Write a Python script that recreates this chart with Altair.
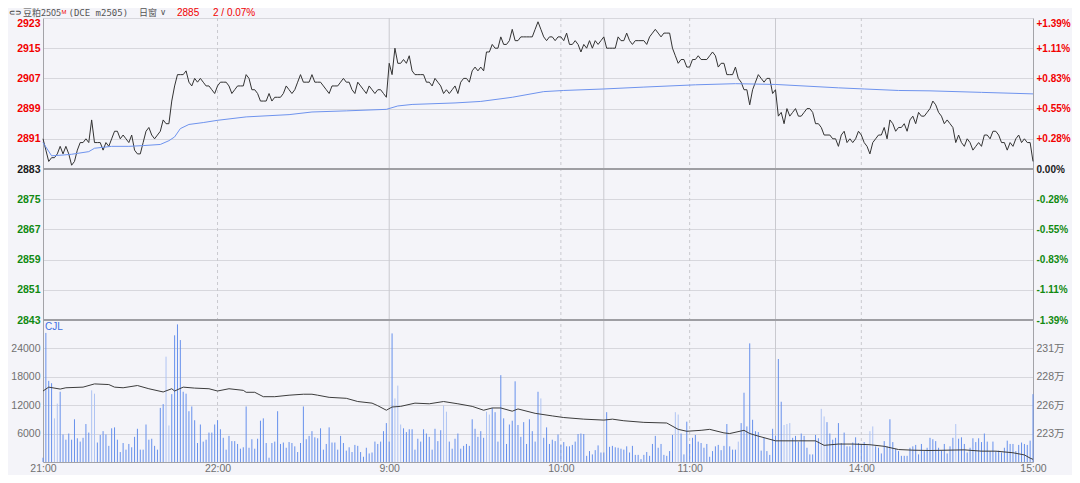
import altair as alt
import pandas as pd

# ---------------- data ----------------
PREV_SETTLE = 2883
PRICE_TICKS = [2843, 2851, 2859, 2867, 2875, 2883, 2891, 2899, 2907, 2915, 2923]
VOL_TICKS = [6000, 12000, 18000, 24000]
OI_TICKS = [223.1, 225.75, 228.4, 231.05]          # open interest, 万手
TIME_TICKS = [-1, 60, 120, 180, 225, 285, 345]      # trading minutes from 21:00
TIME_LABELS = ["21:00", "22:00", "9:00", "10:00", "11:00", "14:00", "15:00"]
SESSION_BREAKS = [120, 195, 255]                    # 9:00, 10:15/10:30, 11:30/13:30
HOUR_MARKS = [60, 180, 225, 285]                    # 22:00, 10:00, 11:00, 14:00

# minute-by-minute price, 21:00-23:00 (m = -1 .. 119)
PRICE_NIGHT = [
    2891, 2888, 2885, 2886, 2886, 2887, 2889, 2887, 2889, 2887,
    2884, 2885, 2888, 2890, 2890, 2891, 2890, 2896, 2890, 2890,
    2890, 2888, 2890, 2889, 2891, 2893, 2893, 2891, 2892, 2891,
    2890, 2892, 2888, 2887, 2887, 2890, 2893, 2894, 2892, 2891,
    2892, 2893, 2896, 2895, 2895, 2901, 2905, 2908, 2908, 2908,
    2909, 2906, 2905, 2907, 2906, 2907, 2906, 2905, 2905, 2904,
    2903, 2905, 2906, 2906, 2906, 2905, 2903, 2904, 2905, 2905,
    2905, 2908, 2907, 2904, 2904, 2903, 2901, 2901, 2901, 2903,
    2901, 2902, 2902, 2902, 2903, 2905, 2904, 2903, 2904, 2906,
    2908, 2906, 2906, 2906, 2908, 2906, 2906, 2906, 2905, 2904,
    2903, 2905, 2905, 2905, 2906, 2907, 2906, 2906, 2904, 2903,
    2906, 2905, 2904, 2903, 2905, 2904, 2903, 2904, 2904, 2903,
    2902,
]
# 9:00-10:15 (m = 120 .. 194)
PRICE_AM1 = [
    2911, 2908, 2915, 2911, 2911, 2912, 2911, 2913, 2909, 2908,
    2908, 2908, 2908, 2906, 2906, 2905, 2907, 2906, 2905, 2903,
    2904, 2903, 2904, 2905, 2903, 2906, 2907, 2907, 2906, 2909,
    2910, 2909, 2910, 2909, 2914, 2914, 2916, 2915, 2915, 2918,
    2916, 2916, 2917, 2920, 2917, 2917, 2918, 2918, 2918, 2918,
    2918, 2920, 2922, 2920, 2918, 2917, 2918, 2918, 2917, 2918,
    2918, 2917, 2919, 2916, 2916, 2917, 2916, 2914, 2916, 2915,
    2917, 2915, 2917, 2916, 2917,
]
# 10:30-11:30 (m = 195 .. 254)
PRICE_AM2 = [
    2918, 2915, 2915, 2915, 2915, 2918, 2917, 2917, 2919, 2917,
    2916, 2917, 2917, 2917, 2917, 2916, 2918, 2919, 2920, 2919,
    2918, 2919, 2919, 2919, 2915, 2913, 2911, 2912, 2912, 2910,
    2910, 2912, 2912, 2913, 2912, 2912, 2912, 2913, 2914, 2913,
    2910, 2911, 2911, 2908, 2908, 2908, 2910, 2907, 2906, 2904,
    2904, 2900, 2904, 2906, 2908, 2907, 2906, 2907, 2907, 2903,
]
# 13:30-15:00 (m = 255 .. 345)
PRICE_PM = [
    2904, 2897, 2898, 2895, 2899, 2897, 2898, 2899, 2897, 2897,
    2898, 2899, 2899, 2898, 2895, 2895, 2894, 2892, 2892, 2892,
    2891, 2891, 2889, 2892, 2893, 2890, 2891, 2890, 2891, 2893,
    2892, 2890, 2889, 2887, 2890, 2891, 2892, 2892, 2894, 2891,
    2896, 2895, 2893, 2894, 2894, 2895, 2893, 2896, 2897, 2895,
    2898, 2897, 2897, 2898, 2899, 2901, 2900, 2898, 2897, 2895,
    2896, 2895, 2894, 2890, 2892, 2890, 2889, 2891, 2890, 2888,
    2889, 2890, 2889, 2892, 2892, 2891, 2893, 2893, 2892, 2890,
    2890, 2888, 2890, 2889, 2891, 2892, 2890, 2891, 2890, 2890,
    2885,
]

VOL_NIGHT = [
    900, 27200, 17100, 16600, 9200, 12300, 14800, 5800, 4700, 6000,
    4700, 9000, 5000, 4300, 5100, 8000, 6200, 15100, 14400, 4100,
    5700, 6500, 5800, 3400, 7100, 7300, 4700, 2100, 4000, 2600,
    3800, 3100, 5300, 7000, 2600, 2600, 7900, 4700, 4900, 3400,
    2600, 11400, 12200, 22200, 7700, 14300, 26700, 29000, 25700, 14800,
    14400, 10700, 11700, 8800, 4000, 7900, 4300, 4700, 6200, 6200,
    7900, 8800, 6900, 5100, 2600, 5500, 4400, 4400, 3800, 2800,
    3100, 11700, 3000, 4800, 2800, 4900, 8700, 9200, 4000, 900,
    4000, 4300, 10700, 3800, 4100, 3000, 4200, 4000, 3300, 2100,
    4000, 11700, 4800, 5500, 6500, 5200, 5000, 7100, 2600, 3800,
    7300, 4100, 4100, 2600, 5500, 4000, 2400, 3100, 2100, 3600,
    3400, 2100, 1100, 3000, 1800, 2000, 4300, 3800, 4300, 6500,
    8200,
]
VOL_AM1 = [
    4300, 27100, 13400, 16100, 7900, 7100, 6300, 6900, 6900, 2600,
    4900, 4300, 6900, 6000, 5300, 2600, 7000, 4400, 6700, 11900,
    10600, 4300, 2800, 4900, 6000, 2800, 3400, 3800, 3400, 9000,
    7000, 5300, 6500, 5100, 10600, 10000, 11400, 10500, 4300, 18300,
    9200, 3800, 7900, 8700, 17000, 7800, 5300, 8400, 3800, 9000,
    6500, 4300, 14800, 13400, 5100, 7300, 3800, 4700, 4400, 5800,
    3600, 4200, 3300, 3300, 3600, 4300, 5900, 6000, 5900, 1300,
    2300, 1600, 2500, 3500, 2000,
]
VOL_AM2 = [
    2000, 10500, 3200, 3400, 3100, 3000, 2800, 2600, 3300, 2000,
    3400, 1500, 1500, 600, 1500, 2100, 1300, 3800, 5500, 3000,
    3800, 1500, 1300, 2300, 5700, 10500, 10000, 6000, 1600, 8500,
    3800, 5100, 5700, 4300, 4000, 3000, 3800, 1100, 2300, 3300,
    3600, 2500, 3400, 8000, 3300, 2600, 2600, 4300, 8200, 14600,
    7500, 25000, 8900, 6500, 6300, 2400, 5100, 2300, 1500, 7000,
]
VOL_PM = [
    5500, 21700, 12700, 7800, 8000, 8200, 5100, 5500, 4300, 6000,
    5500, 3000, 1600, 1600, 5700, 5000, 11200, 9600, 8400, 6000,
    4700, 5100, 8200, 4000, 6200, 3300, 3300, 4100, 5200, 4000,
    3800, 4200, 3500, 6500, 7500, 3300, 3000, 1800, 4400, 3300,
    9000, 4200, 2800, 2300, 1300, 1300, 1300, 3000, 3300, 3600,
    1600, 3800, 2300, 3000, 5100, 4800, 4400, 3000, 2400, 3800,
    1800, 3300, 5100, 8000, 4900, 5200, 3800, 2000, 3000, 5000,
    4200, 5000, 4200, 6000, 4300, 2300, 4300, 2300, 2400, 2000,
    3000, 4500, 3800, 3800, 2300, 3600, 4100, 3800, 3600, 4500,
    14300,
]
LIGHT_BARS = [3, 4, 16, 17, 42, 43, 122, 123, 124, 139, 140, 154, 155, 173,
              220, 221, 242, 258, 259, 260, 271, 272, 288, 289, 318]

AVG_T = [-1, 2, 6, 9, 15, 17, 23, 29, 34, 40, 43, 45, 47, 50, 55, 60, 70, 85, 93, 105,
         119, 123, 128, 143, 152, 163, 174, 181, 195, 209, 227, 241, 255, 277, 286, 298,
         309, 327, 345]
AVG_V = [2890, 2886.5, 2886.7, 2886.9, 2887.6, 2888.5, 2889.0, 2889.0, 2889.2, 2889.5,
         2890.5, 2891.5, 2893.7, 2894.8, 2895.3, 2895.9, 2896.8, 2897.4, 2898.1, 2898.4,
         2898.8, 2899.7, 2900.1, 2900.5, 2900.9, 2902.0, 2903.5, 2903.8, 2904.2, 2904.7,
         2905.3, 2905.6, 2905.4, 2904.5, 2904.2, 2903.8, 2903.7, 2903.3, 2902.9]

OI_T = [-1, 1, 5, 7, 13, 17, 22, 24, 27, 32, 36, 41, 44, 45, 48, 52, 57, 60, 64, 69,
        70, 73, 76, 80, 85, 90, 93, 95, 99, 105, 109, 114, 116, 119,
        121, 124, 129, 134, 139, 144, 149, 153, 156, 159, 163, 165, 171, 177, 181, 188,
        195, 198, 202, 209, 217, 221, 224, 229, 232, 237,
        239, 244, 246, 249, 255, 262, 269, 272, 277, 282, 288, 293, 298, 303, 309, 321,
        327, 332, 338, 342, 344, 345]
OI_V = [227.06, 227.42, 227.24, 227.36, 227.42, 227.72, 227.66, 227.42, 227.36, 227.57,
        227.27, 226.97, 227.27, 227.06, 227.42, 227.33, 227.27, 227.06, 227.27, 227.12,
        226.94, 226.94, 226.53, 226.53, 226.67, 226.76, 226.76, 226.67, 226.47, 226.38,
        226.08, 225.93, 225.69, 225.27,
        225.57, 225.63, 225.93, 225.87, 226.08, 225.87, 225.63, 225.27, 225.48, 225.48,
        225.18, 225.39, 224.98, 224.74, 224.59, 224.44, 224.35, 224.44, 224.29, 224.14,
        224.08, 223.49, 223.31, 223.40, 223.49, 223.16,
        223.10, 223.40, 223.10, 222.86, 222.42, 222.42, 222.42, 222.00, 222.12, 222.12,
        222.06, 221.91, 221.61, 221.55, 221.52, 221.58, 221.46, 221.46, 221.31, 221.11,
        220.81, 220.70]

# ---------------- tables ----------------
minutes = list(range(-1, 346))
price = PRICE_NIGHT + PRICE_AM1 + PRICE_AM2 + PRICE_PM
volume = VOL_NIGHT + VOL_AM1 + VOL_AM2 + VOL_PM
n = min(len(minutes), len(price), len(volume))
df = pd.DataFrame({"m": minutes[:n], "price": price[:n], "vol": volume[:n]})
df["shade"] = ["light" if m in LIGHT_BARS else "dark" for m in df["m"]]
df["base"] = 0
avg_df = pd.DataFrame({"m": AVG_T, "avg": AVG_V})
oi_df = pd.DataFrame({"m": OI_T, "oi": OI_V})
breaks_df = pd.DataFrame({"m": SESSION_BREAKS})
hours_df = pd.DataFrame({"m": HOUR_MARKS})
strong_df = pd.DataFrame({"p": [PREV_SETTLE, PRICE_TICKS[0]]})
dummy = pd.DataFrame({"d": [0]})

# ---------------- styling ----------------
W, H = 990, 444          # plot area (both panels)
PRICE_H = 302            # height of the price panel
BG = "#F4F4F9"
RED = "#F20000"
GREEN = "#118A11"
GRID = "#D7D7DD"
VGRID = "#C9C9CF"
AXIS_GRAY = "#A3A3A8"
LABEL_GRAY = "#707070"
BAR_DARK = "#6690EC"
BAR_LIGHT = "#AFC4F3"
AVG_BLUE = "#6E93EE"
NUM_FONT = "Liberation Sans"
CJK_FONT = "Noto Sans CJK SC"

PRICE_DOMAIN = [PRICE_TICKS[0], PRICE_TICKS[-1]]
VOL_DOMAIN = [0, 29925]
OI_DOMAIN = [220.45, 233.67]
X_DOMAIN = [-1, 345]

time_expr = " : ".join(f"datum.value == {t} ? '{lab}'" for t, lab in zip(TIME_TICKS, TIME_LABELS)) + " : ''"
x_scale = alt.Scale(domain=X_DOMAIN, nice=False, zero=False)
x_axis = alt.Axis(
    orient="bottom", values=TIME_TICKS, labelExpr=time_expr, title=None, grid=False,
    ticks=False, labelPadding=1, labelFlush=False, labelOverlap=False, labelBound=False,
    labelFont=NUM_FONT, labelFontSize=10.5, labelColor=LABEL_GRAY, domainColor=AXIS_GRAY,
)
X = alt.X("m:Q", scale=x_scale, axis=x_axis)

sign_color = {"condition": [{"test": f"datum.value > {PREV_SETTLE}", "value": RED},
                            {"test": f"datum.value < {PREV_SETTLE}", "value": GREEN}],
              "value": "#1A1A1A"}
top_baseline = {"condition": {"test": f"datum.value >= {PRICE_DOMAIN[1]}", "value": "top"},
                "value": "middle"}

price_scale = alt.Scale(domain=PRICE_DOMAIN, range=[PRICE_H, 0], nice=False, zero=False)
price_axis = alt.Axis(
    orient="left", values=PRICE_TICKS, format="d", title=None, ticks=False, labelPadding=3,
    labelFont=NUM_FONT, labelFontSize=10.5, labelFontWeight="bold", labelColor=sign_color,
    labelBaseline=top_baseline, labelFlush=False, labelOverlap=False, labelBound=False,
    domainColor=AXIS_GRAY, grid=True, gridColor=GRID,
)
pct_expr = (f"(datum.value > {PREV_SETTLE} ? '+' : datum.value < {PREV_SETTLE} ? '-' : '') + "
            f"format(abs(datum.value - {PREV_SETTLE}) / {PREV_SETTLE} * 100, '.2f') + '%'")
pct_axis = alt.Axis(
    orient="right", values=PRICE_TICKS, labelExpr=pct_expr, title=None, ticks=False,
    labelPadding=3, labelFont=NUM_FONT, labelFontSize=10, labelFontWeight="bold",
    labelColor=sign_color, labelBaseline=top_baseline, labelFlush=False, labelOverlap=False,
    labelBound=False, domainColor=AXIS_GRAY, grid=False,
)

vol_scale = alt.Scale(domain=VOL_DOMAIN, range=[H, PRICE_H], nice=False, zero=True)
vol_axis = alt.Axis(
    orient="left", values=VOL_TICKS, format="d", title=None, ticks=False, labelPadding=3,
    labelFont=NUM_FONT, labelFontSize=10.5, labelColor=LABEL_GRAY, labelFlush=False,
    labelOverlap=False, domainColor=AXIS_GRAY, grid=True, gridColor=GRID,
)
oi_scale = alt.Scale(domain=OI_DOMAIN, range=[H, PRICE_H], nice=False, zero=False)
oi_axis = alt.Axis(
    orient="right", values=OI_TICKS, labelExpr="round(datum.value) + '万'", title=None,
    ticks=False, labelPadding=3, labelFont=f"{NUM_FONT}, {CJK_FONT}", labelFontSize=10.5,
    labelColor=LABEL_GRAY, labelFlush=False, labelOverlap=False, domainColor=AXIS_GRAY,
    grid=False,
)

# ---------------- marks (every x uses the same shared axis definition) ----------------
solid_v = alt.Chart(breaks_df).mark_rule(color=VGRID, strokeWidth=1).encode(x=X)
dashed_v = alt.Chart(hours_df).mark_rule(color=VGRID, strokeWidth=1, strokeDash=[3, 3]).encode(x=X)
strong_h = alt.Chart(strong_df).mark_rule(color="#9E9EA3", strokeWidth=2).encode(
    y=alt.Y("p:Q", scale=price_scale, axis=None))

price_line = alt.Chart(df).mark_line(color="#333333", strokeWidth=1).encode(
    x=X, y=alt.Y("price:Q", scale=price_scale, axis=price_axis))
avg_line = alt.Chart(avg_df).mark_line(color=AVG_BLUE, strokeWidth=1).encode(
    x=X, y=alt.Y("avg:Q", scale=price_scale, axis=None))
pct_layer = alt.Chart(df).mark_line(opacity=0).encode(
    x=X, y=alt.Y("price:Q", scale=price_scale, axis=pct_axis))

vol_bars = alt.Chart(df).mark_rule(strokeWidth=1).encode(
    x=X, y=alt.Y("vol:Q", scale=vol_scale, axis=vol_axis), y2="base:Q",
    color=alt.Color("shade:N", scale=alt.Scale(domain=["dark", "light"], range=[BAR_DARK, BAR_LIGHT]),
                    legend=None))
oi_line = alt.Chart(oi_df).mark_line(color="#3C3C3C", strokeWidth=1).encode(
    x=X, y=alt.Y("oi:Q", scale=oi_scale, axis=oi_axis))


def label(text, x, y, color, size, font, weight="normal", baseline="alphabetic"):
    return alt.Chart(dummy).mark_text(
        text=text, color=color, fontSize=size, font=font, fontWeight=weight,
        align="left", baseline=baseline).encode(x=alt.value(x), y=alt.value(y))


HY = -2.5
last = price[-1]
texts = [
    label("⊂⊃", -34, HY - 1, "#4A4A4A", 7.5, "DejaVu Sans", "bold"),
    label("豆粕2505", -20, HY, "#555555", 9, CJK_FONT),
    label("M", 18.5, HY - 1.5, RED, 6, NUM_FONT),
    label("(DCE m2505)", 25.5, HY, "#555555", 9, "DejaVu Sans Mono"),
    label("日窗", 96, HY, "#555555", 9, CJK_FONT),
    label("∨", 117, HY - 0.5, "#555555", 8.5, "DejaVu Sans"),
    label(str(last), 134, HY, RED, 10, NUM_FONT),
    label(f"{last - PREV_SETTLE} / {(last - PREV_SETTLE) / PREV_SETTLE * 100:.2f}%",
          170, HY, RED, 10, NUM_FONT),
    label("CJL", 2, PRICE_H + 7, "#3D6FE3", 10, NUM_FONT, baseline="middle"),
]

chart = alt.layer(
    solid_v, dashed_v, strong_h, price_line, avg_line, pct_layer, vol_bars, oi_line, *texts
).resolve_scale(y="independent").resolve_axis(y="independent").properties(
    width=W, height=H, background=BG,
    padding={"left": 35, "top": 10, "right": 39, "bottom": 13},
    autosize=alt.AutoSizeParams(type="none"),
).configure_view(stroke=None)

chart.save("out.html", embed_options={"renderer": "svg", "actions": False})
